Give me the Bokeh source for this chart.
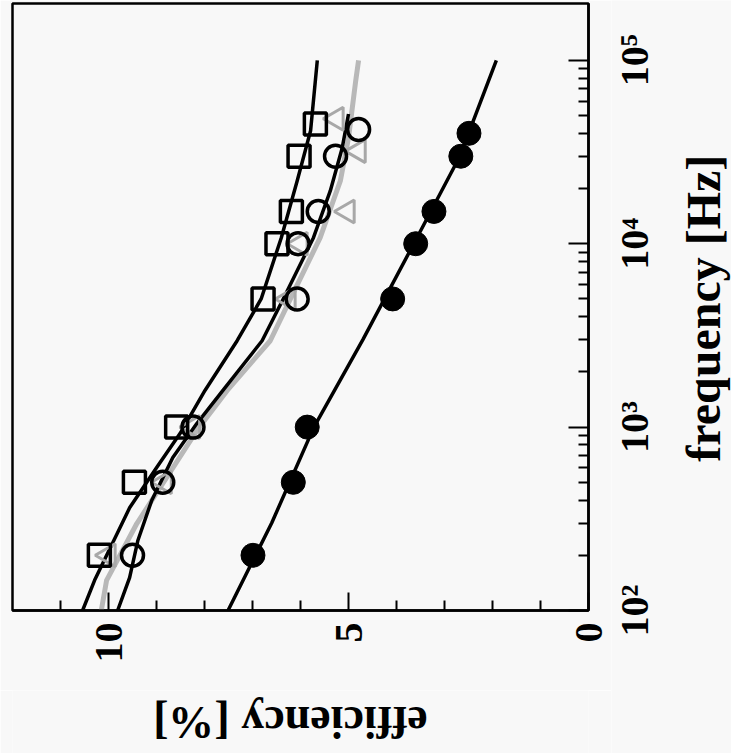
import math
from bokeh.plotting import figure
from bokeh.layouts import row, column
from bokeh.models import Range1d, FixedTicker
from bokeh.core.properties import value
from bokeh.embed import file_html
from bokeh.resources import INLINE

# ---- data ----
# measured points (frequency in Hz, efficiency in %)
freq_sq = [200, 500, 1000, 5000, 10000, 15000, 30000, 45000]
eff_sq = [10.19, 9.46, 8.58, 6.78, 6.49, 6.19, 6.03, 5.69]

freq_oc = [200, 500, 1000, 5000, 10000, 15000, 30000, 42000]
eff_oc = [9.50, 8.87, 8.24, 6.07, 6.05, 5.63, 5.27, 4.79]

freq_tri = [200, 500, 1000, 5000, 10000, 15000, 32000, 48000]
eff_tri = [10.0, 8.83, 8.24, 6.25, 6.0, 5.02, 4.79, 5.25]

freq_fc = [200, 500, 1000, 5000, 10000, 15000, 30000, 40000]
eff_fc = [6.99, 6.15, 5.86, 4.08, 3.60, 3.22, 2.66, 2.49]

# fitted curves
sq_curve_f = [100, 146, 363, 601, 922, 1585, 2958, 5000, 10790, 22000, 41300, 100000]
sq_curve_e = [10.54, 10.29, 9.56, 9.00, 8.51, 7.99, 7.32, 6.82, 6.40, 6.07, 5.79, 5.65]

oc_curve_f = [100, 151, 240, 398, 682, 1045, 1581, 2958, 5000, 10790, 19400, 33400, 51000]
oc_curve_e = [9.81, 9.56, 9.39, 9.10, 8.66, 8.16, 7.62, 6.80, 6.36, 5.73, 5.38, 5.13, 5.0]

gray_curve_f = [100, 146, 298, 531, 957, 1581, 2958, 5000, 10790, 22000, 37800, 77300, 100000]
gray_curve_e = [10.15, 10.04, 9.41, 8.79, 8.16, 7.53, 6.63, 6.21, 5.59, 5.17, 5.0, 4.85, 4.79]

fc_curve_f = [100, 300, 1000, 3000, 10000, 30000, 100000]
fc_curve_e = [7.51, 6.6, 5.72, 4.7, 3.64, 2.68, 1.92]

# axes
freq_tick_values = [100, 1000, 10000, 100000]
freq_tick_labels = ["10²", "10³", "10⁴", "10⁵"]
freq_minor_values = [m * 10 ** k for k in (2, 3, 4) for m in range(2, 10)]
eff_tick_values = [0, 5, 10]
eff_minor_values = [1, 2, 3, 4, 6, 7, 8, 9, 11]
eff_range = (12, 0)
freq_range = (100, 10 ** 5.31)

x_title = "efficiency [%]"
y_title = "frequency [Hz]"

FONT = "Liberation Serif"
BG = "#f8f8f8"

# layout sizes (pixels)
TOTAL_W, TOTAL_H = 731, 753
MAIN_W, MAIN_H = 611, 690
FRAME_TOP, FRAME_BOTTOM_BORDER = 3, 80
FRAME_LEFT, FRAME_RIGHT_BORDER = 12, 23
FRAME_H = MAIN_H - FRAME_TOP - FRAME_BOTTOM_BORDER

# ---------------- main plot ----------------
p = figure(width=MAIN_W, height=MAIN_H, output_backend="svg", toolbar_location=None,
           x_range=Range1d(*eff_range), y_range=Range1d(*freq_range),
           y_axis_type="log", x_axis_location="below", y_axis_location="right",
           min_border_left=FRAME_LEFT, min_border_top=FRAME_TOP,
           min_border_right=FRAME_RIGHT_BORDER,
           min_border_bottom=FRAME_BOTTOM_BORDER)
p.background_fill_color = BG
p.border_fill_color = BG
p.outline_line_color = "black"
p.outline_line_width = 2.5
p.grid.visible = False

xa = p.xaxis[0]
xa.ticker = FixedTicker(ticks=eff_tick_values, minor_ticks=eff_minor_values)
xa.major_tick_in = 18
xa.major_tick_out = 0
xa.minor_tick_in = 10
xa.minor_tick_out = 0
xa.major_tick_line_width = 2
xa.minor_tick_line_width = 2
xa.axis_line_width = 2.5
xa.major_label_orientation = math.pi / 2
xa.major_label_text_font = FONT
xa.major_label_text_font_style = "bold"
xa.major_label_text_font_size = "40px"
xa.major_label_text_color = "black"
xa.major_label_standoff = 12

ya = p.yaxis[0]
ya.ticker = FixedTicker(ticks=freq_tick_values, minor_ticks=freq_minor_values)
ya.major_label_overrides = {v: "" for v in freq_tick_values}
ya.major_label_standoff = 0
ya.major_tick_in = 20
ya.major_tick_out = 0
ya.minor_tick_in = 10
ya.minor_tick_out = 0
ya.major_tick_line_width = 2
ya.minor_tick_line_width = 2
ya.axis_line_width = 2.5

p.line(gray_curve_e, gray_curve_f, line_color="#b8b8b8", line_width=5, line_join="round")
p.line(sq_curve_e, sq_curve_f, line_color="black", line_width=3.5, line_join="round")
p.line(oc_curve_e, oc_curve_f, line_color="black", line_width=3.5, line_join="round")
p.line(fc_curve_e, fc_curve_f, line_color="black", line_width=3.5, line_join="round")

p.scatter(eff_tri, freq_tri, marker="triangle", size=23, angle=math.pi / 2,
          line_color="#a8a8a8", line_width=3, fill_alpha=0)
p.scatter(eff_sq, freq_sq, marker="square", size=22, line_color="black",
          line_width=3.5, fill_alpha=0)
p.scatter(eff_oc, freq_oc, marker="circle", size=22, line_color="black",
          line_width=3.5, fill_alpha=0)
p.scatter(eff_fc, freq_fc, marker="circle", size=24, line_color="black",
          fill_color="black")

# ---------------- right strip: frequency tick labels + title ----------------
# same log scale as the main frame, extended over the strip's full height
lo, hi = math.log10(freq_range[0]), math.log10(freq_range[1])
per_px = (hi - lo) / FRAME_H
strip_range = (10 ** (lo - (TOTAL_H - FRAME_TOP - FRAME_H) * per_px),
               10 ** (hi + FRAME_TOP * per_px))

pr = figure(width=TOTAL_W - MAIN_W, height=TOTAL_H, output_backend="svg",
            toolbar_location=None,
            x_range=Range1d(MAIN_W, TOTAL_W), y_range=Range1d(*strip_range),
            y_axis_type="log", x_axis_location=None, y_axis_location=None,
            min_border=0)
pr.background_fill_color = BG
pr.border_fill_color = BG
pr.outline_line_color = None
pr.grid.visible = False

pr.text(x=[634] * len(freq_tick_values), y=freq_tick_values, text=freq_tick_labels,
        angle=math.pi / 2, text_align="center", text_baseline="middle",
        text_font=value(FONT), text_font_style="bold",
        text_font_size="40px", text_color="black")

pr.text(x=[703], y=[4450], text=[y_title], angle=math.pi / 2,
        text_align="center", text_baseline="middle",
        text_font=value(FONT), text_font_style="bold",
        text_font_size="48px", text_color="black")

# ---------------- bottom strip: efficiency title ----------------
pb = figure(width=MAIN_W, height=TOTAL_H - MAIN_H, output_backend="svg",
            toolbar_location=None, x_range=p.x_range, y_range=Range1d(0, 1),
            x_axis_location=None, y_axis_location=None,
            min_border_left=FRAME_LEFT, min_border_right=FRAME_RIGHT_BORDER,
            min_border_top=0, min_border_bottom=0)
pb.background_fill_color = BG
pb.border_fill_color = BG
pb.outline_line_color = None
pb.grid.visible = False
pb.text(x=[6.21], y=[0.5], text=[x_title], angle=math.pi,
        text_align="center", text_baseline="middle",
        text_font=value(FONT), text_font_style="bold",
        text_font_size="46px", text_color="black")

layout = row(column(p, pb), pr)
open("out.html", "w").write(file_html(layout, INLINE))
